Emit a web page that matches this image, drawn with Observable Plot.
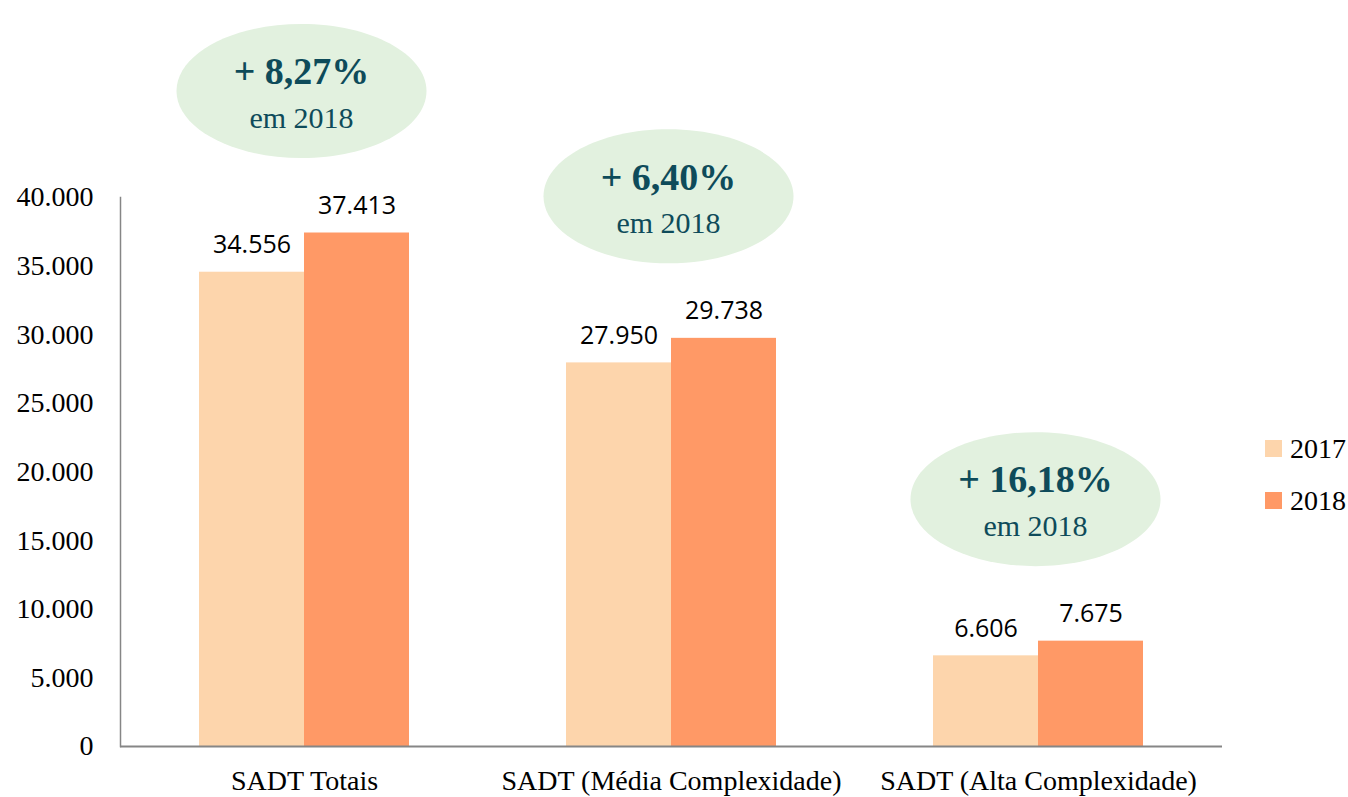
<!DOCTYPE html>
<html>
<head>
<meta charset="utf-8">
<script src="https://cdn.jsdelivr.net/npm/d3@7"></script>
<script src="https://cdn.jsdelivr.net/npm/@observablehq/plot@0.6"></script>
<style>
  html, body { margin: 0; padding: 0; background: #fff; }
  #chart { position: relative; width: 1348px; height: 797px; }
</style>
</head>
<body>
<div id="chart"></div>
<script>
const categories = ["SADT Totais", "SADT (Média Complexidade)", "SADT (Alta Complexidade)"];
const values2017 = [34556, 27950, 6606];
const values2018 = [37413, 29738, 7675];
const growth = ["8,27%", "6,40%", "16,18%"];
const years = ["2017", "2018"];
const yTicks = [0, 5000, 10000, 15000, 20000, 25000, 30000, 35000, 40000];

const colors = {"2017": "#FDD5AC", "2018": "#FF9966"};
const teal = "#0E4B5A";
const fmt = d => d3.format(",")(d).replace(/,/g, ".");

const rows2017 = categories.map((c, i) => ({cat: c, value: values2017[i]}));
const rows2018 = categories.map((c, i) => ({cat: c, value: values2018[i]}));
const notes = categories.map((c, i) => ({cat: c, top: Math.max(values2017[i], values2018[i]), pct: growth[i]}));

const halfBar = 105;
const rx = 125, ry = 67, k = 0.5523;
const ellipse = {
  draw(ctx) {
    ctx.moveTo(rx, 0);
    ctx.bezierCurveTo(rx, ry * k, rx * k, ry, 0, ry);
    ctx.bezierCurveTo(-rx * k, ry, -rx, ry * k, -rx, 0);
    ctx.bezierCurveTo(-rx, -ry * k, -rx * k, -ry, 0, -ry);
    ctx.bezierCurveTo(rx * k, -ry, rx, -ry * k, rx, 0);
    ctx.closePath();
  }
};

const plot = Plot.plot({
  width: 1348,
  height: 797,
  marginTop: 197,
  marginBottom: 51,
  marginLeft: 120,
  marginRight: 126,
  style: {fontFamily: "Liberation Serif", color: "#000", background: "#fff", overflow: "visible"},
  x: {domain: categories, paddingInner: 0.428, paddingOuter: 0.214, label: null},
  y: {domain: [0, 40000], label: null},
  marks: [
    Plot.frame({anchor: "left", stroke: "#868686", strokeWidth: 1.5, strokeOpacity: 1}),
    Plot.barY(rows2017, {x: "cat", y: "value", fill: colors["2017"], insetRight: halfBar}),
    Plot.barY(rows2018, {x: "cat", y: "value", fill: colors["2018"], insetLeft: halfBar}),
    Plot.ruleY([0], {stroke: "#868686", strokeWidth: 2}),
    Plot.text(rows2017, {x: "cat", y: "value", text: d => fmt(d.value), dx: -halfBar / 2, dy: -27, fontFamily: "Open Sans", fontSize: 25, fill: "#000"}),
    Plot.text(rows2018, {x: "cat", y: "value", text: d => fmt(d.value), dx: halfBar / 2, dy: -27, fontFamily: "Open Sans", fontSize: 25, fill: "#000"}),
    Plot.dot(notes, {x: "cat", y: "top", dx: -3, dy: -142, symbol: ellipse, fill: "#E2F1DF", stroke: null}),
    Plot.text(notes, {x: "cat", y: "top", dx: -3, dy: -161, text: d => "+ " + d.pct, fontFamily: "Liberation Serif", fontWeight: "bold", fontSize: 38, fill: teal}),
    Plot.text(notes, {x: "cat", y: "top", dx: -3, dy: -115, text: () => "em 2018", fontFamily: "Liberation Serif", fontSize: 30, fill: teal}),
    Plot.axisY({ticks: yTicks, tickFormat: fmt, tickSize: 0, tickPadding: 27, fontSize: 28, label: null}),
    Plot.axisX({tickSize: 0, tickPadding: 24, fontSize: 28, label: null})
  ]
});

document.getElementById("chart").appendChild(plot);

// Legend (right side)
const svg = d3.select(plot);
const legend = svg.append("g")
  .attr("font-family", "Liberation Serif")
  .attr("font-size", 28)
  .attr("text-anchor", "start");
years.forEach((yr, i) => {
  const g = legend.append("g").attr("transform", `translate(1265, ${440 + i * 52})`);
  g.append("rect").attr("width", 17).attr("height", 17).attr("fill", colors[yr]);
  g.append("text").attr("x", 25).attr("y", 18).attr("fill", "#000").text(yr);
});
</script>
</body>
</html>
